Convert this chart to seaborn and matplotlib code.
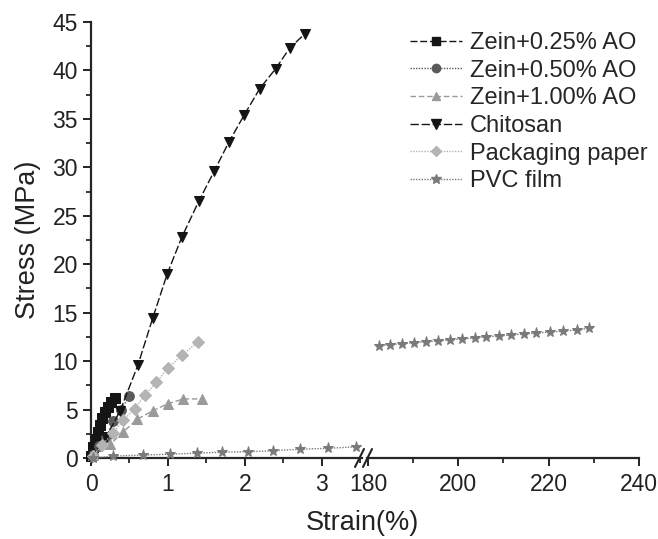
import numpy as np
import pandas as pd
import matplotlib
matplotlib.use('Agg')
import matplotlib.pyplot as plt
from matplotlib.lines import Line2D
from matplotlib.ticker import MultipleLocator
import seaborn as sns

# datos (Strain %, Stress MPa)
zein025_x = [0.0, 0.03, 0.06, 0.09, 0.12, 0.14, 0.18, 0.22, 0.26, 0.31]
zein025_y = [0.2, 1.1, 2.0, 2.7, 3.4, 4.1, 4.7, 5.3, 5.8, 6.2]
zein050_x = [0.02, 0.11, 0.2, 0.29, 0.39, 0.5]
zein050_y = [0.3, 1.2, 2.2, 3.8, 5.0, 6.4]
zein100_x = [0.02, 0.25, 0.42, 0.6, 0.81, 1.0, 1.2, 1.44]
zein100_y = [0.3, 1.4, 2.7, 4.0, 4.9, 5.6, 6.1, 6.1]
chitosan_x = [0.0, 0.2, 0.38, 0.61, 0.8, 0.99, 1.18, 1.40, 1.60, 1.79, 1.99, 2.19, 2.40, 2.58, 2.78]
chitosan_y = [0.0, 2.2, 4.9, 9.6, 14.4, 19.0, 22.8, 26.5, 29.6, 32.6, 35.4, 38.1, 40.2, 42.3, 43.8]
paper_x = [0.02, 0.14, 0.29, 0.42, 0.57, 0.70, 0.85, 1.0, 1.18, 1.39]
paper_y = [0.2, 1.3, 2.6, 3.9, 5.1, 6.5, 7.8, 9.3, 10.6, 12.0]
pvc_x = [0.02, 0.29, 0.68, 1.03, 1.38, 1.70, 2.04, 2.36, 2.71, 3.08, 3.44]
pvc_y = [0.0, 0.2, 0.3, 0.4, 0.5, 0.6, 0.65, 0.75, 0.9, 1.0, 1.15]
pvc2_x = [182.4, 185.0, 187.6, 190.2, 192.8, 195.6, 198.2, 200.8, 203.6, 206.2,
          209.0, 211.7, 214.5, 217.3, 220.3, 223.2, 226.2, 229.0]
pvc2_y = [11.6, 11.7, 11.8, 11.9, 12.0, 12.1, 12.2, 12.3, 12.4, 12.5,
          12.6, 12.7, 12.8, 12.9, 13.0, 13.1, 13.2, 13.4]

sns.set_style('ticks')
plt.rcParams['font.family'] = ['Liberation Sans', 'DejaVu Sans']

fig = plt.figure(figsize=(6.58, 5.39), dpi=100)
ax1 = fig.add_axes([91/658, 1-458/539, (362-91)/658, (458-22)/539])
ax2 = fig.add_axes([367/658, 1-458/539, (639-367)/658, (458-22)/539])

# (etiqueta, x, y, marcador, color, estilo, tamaño)
series = [
    ('Zein+0.25% AO', zein025_x, zein025_y, 's', '#151515', (0, (5, 2)), 6.5),
    ('Zein+0.50% AO', zein050_x, zein050_y, 'o', '#5a5a5a', (0, (1, 1)), 7),
    ('Zein+1.00% AO', zein100_x, zein100_y, '^', '#9a9a9a', (0, (4, 2)), 7),
    ('Chitosan', chitosan_x, chitosan_y, 'v', '#151515', (0, (6, 2)), 7.5),
    ('Packaging paper', paper_x, paper_y, 'D', '#b4b4b4', (0, (1, 1)), 6),
    ('PVC film', pvc_x, pvc_y, '*', '#7a7a7a', (0, (1, 1)), 8),
]

handles = []
for lab, xs, ys, mk, col, ls, ms in series:
    df = pd.DataFrame({'x': xs, 'y': ys})
    sns.lineplot(data=df, x='x', y='y', ax=ax1, color=col, marker=mk,
                 markersize=ms, markeredgecolor=col, linewidth=1.0,
                 linestyle=ls, clip_on=False, zorder=3)
    handles.append(Line2D([], [], color=col, marker=mk, markersize=ms - 1,
                          markeredgecolor=col, linestyle=ls, linewidth=1.0))

df2 = pd.DataFrame({'x': pvc2_x, 'y': pvc2_y})
sns.lineplot(data=df2, x='x', y='y', ax=ax2, color='#7a7a7a', marker='*',
             markersize=8, markeredgecolor='#7a7a7a', linewidth=1.0,
             linestyle=(0, (1, 1)), clip_on=False)

ax1.set_xlim(0, 3.52)
ax2.set_xlim(179.8, 240)
for ax in (ax1, ax2):
    ax.set_ylim(0, 45)
    ax.set_xlabel('')
    ax.set_ylabel('')
    ax.spines['top'].set_visible(False)
    ax.spines['right'].set_visible(False)
    ax.spines['bottom'].set_linewidth(1.6)
    ax.spines['left'].set_linewidth(1.6)
    ax.tick_params(which='major', length=6, width=1.4, labelsize=16.5,
                   colors='#222222')
    ax.tick_params(axis='x', which='major', pad=5)
    ax.tick_params(which='minor', length=3.5, width=1.3)

ax1.xaxis.set_major_locator(MultipleLocator(1))
ax1.xaxis.set_minor_locator(MultipleLocator(0.5))
ax1.yaxis.set_major_locator(MultipleLocator(5))
ax1.yaxis.set_minor_locator(MultipleLocator(2.5))

ax2.spines['left'].set_visible(False)
ax2.set_yticks([])
ax2.set_xticks([180, 200, 220, 240])
ax2.xaxis.set_minor_locator(MultipleLocator(10))
ax2.patch.set_alpha(0)

# marcas de corte del eje
for dx in (0, 8):
    fig.add_artist(Line2D([(355 + dx)/658, (364 + dx)/658],
                          [1-467/539, 1-449/539], color='#222222', lw=1.5))

fig.text(28/658, 1-240/539, 'Stress (MPa)', rotation=90,
         ha='center', va='center', fontsize=19.5, color='#222222')
fig.text(362/658, 1-523/539, 'Strain(%)', ha='center', va='center',
         fontsize=19.5, color='#222222')

labels = [s[0] for s in series]
fig.legend(handles, labels, loc='upper left', bbox_to_anchor=(410/658, 1-32/539),
           frameon=False, fontsize=17, handlelength=2.2, handletextpad=0.35,
           labelspacing=0.24, borderaxespad=0, borderpad=0)

fig.savefig('out.png', dpi=100)
